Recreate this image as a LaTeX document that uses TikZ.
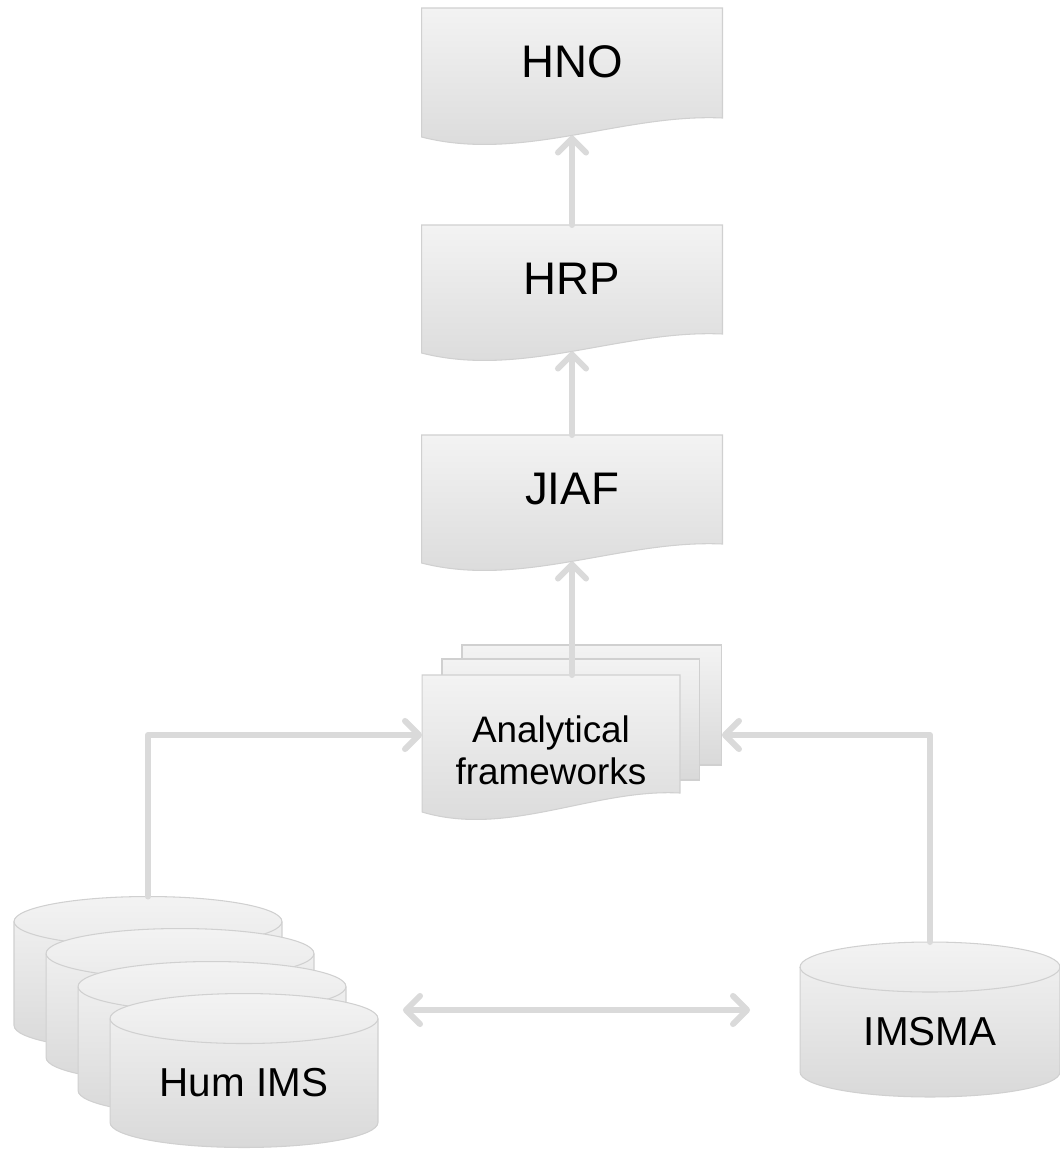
\documentclass[tikz,border=0pt]{standalone}
\usepackage{fontspec}
\setmainfont{Liberation Sans}
\usetikzlibrary{arrows.meta, calc, backgrounds}

\definecolor{boxtop}{HTML}{F3F3F3}
\definecolor{boxbot}{HTML}{D9D9D9}
\definecolor{boxline}{HTML}{D0D0D0}
\definecolor{arrowgray}{HTML}{DADADA}

\tikzset{
  doc/.style={draw=boxline, line width=0.6pt, top color=boxtop, bottom color=boxbot},
  docbox/.style={rectangle, outer sep=0pt, inner sep=0pt, minimum width=6.02cm,
    minimum height=2.16cm, font=\fontsize{26}{30}\selectfont},
  multibox/.style={docbox, minimum width=5.16cm, minimum height=3cm, align=center,
    font=\fontsize{21}{24}\selectfont},
  sheet/.style={doc, rectangle, outer sep=0pt, anchor=north west,
    minimum width=5.16cm, minimum height=2.42cm},
  dbbox/.style={rectangle, outer sep=0pt, inner sep=0pt, minimum width=5.36cm,
    minimum height=2.58cm, font=\fontsize{23}{27}\selectfont},
  conn/.style={draw=arrowgray, line width=3.4pt, line cap=round, line join=round, ->},
  >={Straight Barb[length=8pt,width=16pt,round]}
}

% document outline with a wavy lower edge: node, drop of left corner (px)
\newcommand{\docpath}[2]{%
  \path (#1.north west) ++(0,-#2) coordinate (#1-l)
        (#1.north east) ++(0,-#2+19) coordinate (#1-r);
  \coordinate (#1-wave) at ($(#1-l)!0.5!(#1-r)+(0,-8)$);
  \begin{pgfonlayer}{background}
  \draw[doc] (#1.north west) -- (#1.north east) -- (#1-r)
    .. controls ($(#1-l)!0.667!(#1-r)+(0,11)$) and ($(#1-l)!0.333!(#1-r)+(0,-32)$) .. (#1-l)
    -- cycle;
  \end{pgfonlayer}}

% database drum round a node: node, half width
\newcommand{\cylpath}[2]{%
  \coordinate (#1-top) at ($(#1.north)+(0,25)$);
  \begin{pgfonlayer}{background}
  \draw[doc] (#1.north west) -- ($(#1.south west)+(0,25)$)
    arc[start angle=180, end angle=360, x radius=#2, y radius=0.5cm]
    -- (#1.north east)
    arc[start angle=0, end angle=180, x radius=#2, y radius=0.5cm] -- cycle;
  \draw[draw=boxline, line width=0.6pt] (#1.north west)
    arc[start angle=180, end angle=360, x radius=#2, y radius=0.5cm];
  \end{pgfonlayer}}

\begin{document}
\begin{tikzpicture}[x=0.02cm, y=0.02cm]
  \useasboundingbox (0,0) rectangle (1060,-1158);

  % reports
  \node[docbox] (HNO) at (572,-62) {HNO};
  \node[docbox] (HRP) at (572,-279) {HRP};
  \node[docbox] (JIAF) at (572,-489) {JIAF};
  \docpath{HNO}{129}
  \docpath{HRP}{128}
  \docpath{JIAF}{128}

  % frameworks
  \begin{pgfonlayer}{background}
    \node[sheet, minimum width=5.2cm, minimum height=2.4cm] (back) at (462,-645) {};
    \node[sheet] (middle) at (442,-659) {};
  \end{pgfonlayer}
  \node[multibox] (frames) at (551,-750) {Analytical\\frameworks};
  \docpath{frames}{137}

  % databases
  \foreach \i/\x/\y in {1/148/-986, 2/180/-1018, 3/212/-1051}{
    \node[dbbox] (hum\i) at (\x,\y) {};
    \cylpath{hum\i}{2.68cm}
  }
  \node[dbbox] (hum4) at (244,-1083) {Hum IMS};
  \cylpath{hum4}{2.68cm}
  \node[dbbox, minimum width=5.2cm, minimum height=2.6cm] (IMSMA) at (930,-1032) {IMSMA};
  \cylpath{IMSMA}{2.6cm}

  % connectors
  \draw[conn] (HRP.north) -- (HNO-wave);
  \draw[conn] (JIAF.north) -- (HRP-wave);
  \draw[conn] (JIAF-wave |- frames.north) -- (JIAF-wave);
  \draw[conn] (hum1-top) |- ([yshift=0.3cm]frames.west);
  \draw[conn] (IMSMA-top) |- ([yshift=-0.6cm]back.east);
  \draw[conn, <->] ([shift={(25,73)}]hum4.east) coordinate (dbl)
    -- ($(dbl -| IMSMA.west)+(-50,0)$);
\end{tikzpicture}
\end{document}
